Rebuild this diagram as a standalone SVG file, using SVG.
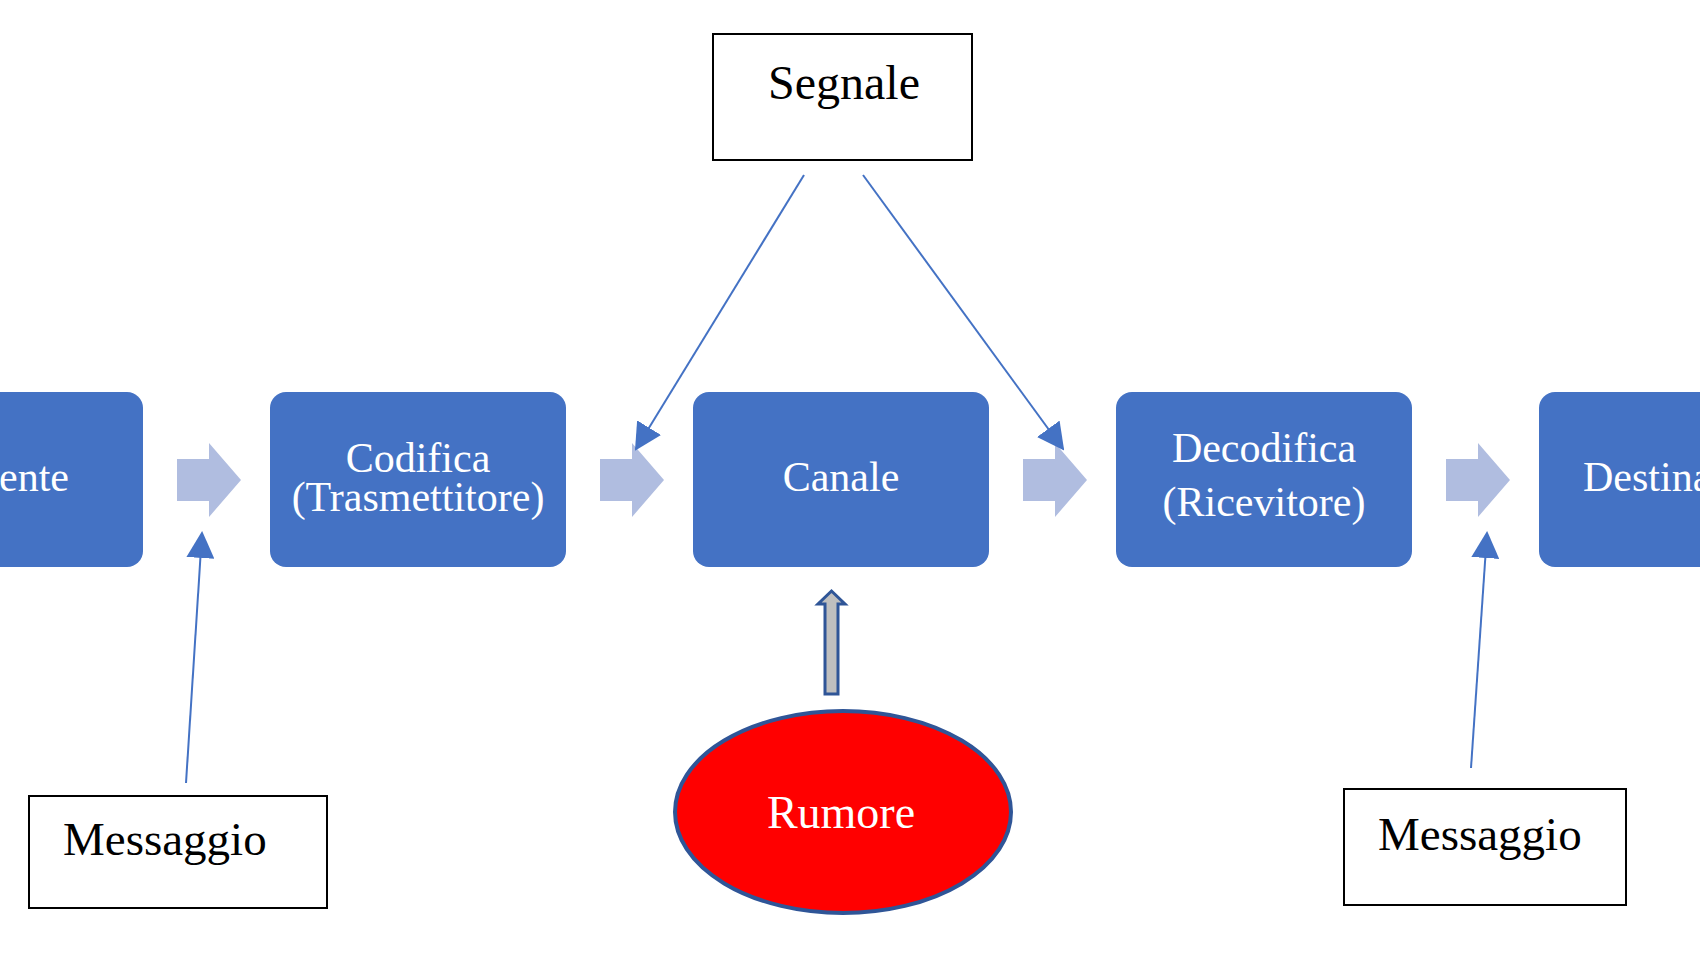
<svg xmlns="http://www.w3.org/2000/svg" width="1700" height="956" viewBox="0 0 1700 956">
<style>
.box{fill:#4472C4;}
.bt{font-family:"Liberation Serif","Times New Roman",serif;font-size:42px;fill:#FFFFFF;text-anchor:middle;}
.lbl{fill:#FFFFFF;stroke:#000000;stroke-width:2;}
.lt{font-family:"Liberation Serif","Times New Roman",serif;font-size:47px;fill:#000000;}
.chev{fill:#B0BDE0;}
.conn{stroke:#4472C4;stroke-width:2;fill:none;marker-end:url(#ah);}
</style>
<defs>
<marker id="ah" viewBox="0 0 27 28" refX="25" refY="14" markerWidth="27" markerHeight="28" markerUnits="userSpaceOnUse" orient="auto">
<path d="M0,0 L27,14 L0,28 Z" fill="#4472C4"/>
</marker>
</defs>
<rect width="1700" height="956" fill="#FFFFFF"/>

<g id="sorgente">
<rect class="box" x="-153" y="392" width="296" height="175" rx="16"/>
<text class="bt" x="-1" y="491" style="text-anchor:start">ente</text>
</g>
<g id="codifica">
<rect class="box" x="270" y="392" width="296" height="175" rx="16"/>
<text class="bt" x="418" y="472">Codifica</text>
<text class="bt" x="418" y="511">(Trasmettitore)</text>
</g>
<g id="canale">
<rect class="box" x="693" y="392" width="296" height="175" rx="16"/>
<text class="bt" x="841" y="491">Canale</text>
</g>
<g id="decodifica">
<rect class="box" x="1116" y="392" width="296" height="175" rx="16"/>
<text class="bt" x="1264" y="462">Decodifica</text>
<text class="bt" x="1264" y="516">(Ricevitore)</text>
</g>
<g id="destinatario">
<rect class="box" x="1539" y="392" width="296" height="175" rx="16"/>
<text class="bt" x="1583" y="491" style="text-anchor:start">Destina</text>
</g>

<g id="chevrons">
<polygon class="chev" points="177,459 209,459 209,443 241,480 209,517 209,501 177,501"/>
<polygon class="chev" points="600,459 632,459 632,443 664,480 632,517 632,501 600,501"/>
<polygon class="chev" points="1023,459 1055,459 1055,443 1087,480 1055,517 1055,501 1023,501"/>
<polygon class="chev" points="1446,459 1478,459 1478,443 1510,480 1478,517 1478,501 1446,501"/>
</g>

<g id="segnale">
<rect class="lbl" x="713" y="34" width="259" height="126"/>
<text class="lt" x="844" y="99" text-anchor="middle" style="font-size:48px">Segnale</text>
</g>
<g id="messaggio1">
<rect class="lbl" x="29" y="796" width="298" height="112"/>
<text class="lt" x="63" y="855">Messaggio</text>
</g>
<g id="messaggio2">
<rect class="lbl" x="1344" y="789" width="282" height="116"/>
<text class="lt" x="1378" y="850">Messaggio</text>
</g>
<g id="rumore">
<ellipse cx="843" cy="812" rx="168" ry="101" fill="#FF0000" stroke="#2F5597" stroke-width="4"/>
<text x="841" y="828" text-anchor="middle" style="font-family:'Liberation Serif','Times New Roman',serif;font-size:46px;fill:#FFFFFF">Rumore</text>
</g>

<g id="connectors">
<line class="conn" x1="804" y1="175" x2="636" y2="449"/>
<line class="conn" x1="863" y1="175" x2="1063" y2="449"/>
<line class="conn" x1="186" y1="783" x2="202" y2="533"/>
<line class="conn" x1="1471" y1="768" x2="1487" y2="533"/>
<polygon points="825,694 838,694 838,604 845,604 831.5,591 818,604 825,604" fill="#BFBFBF" stroke="#2F5597" stroke-width="3" stroke-linejoin="miter"/>
</g>
</svg>
